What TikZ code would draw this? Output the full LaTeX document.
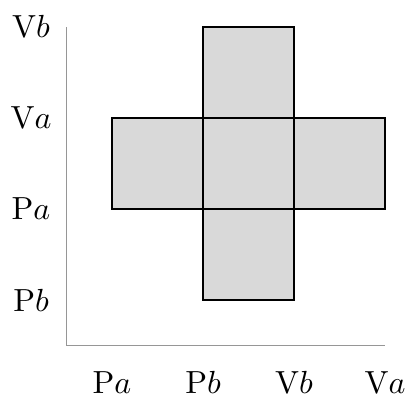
\documentclass[tikz,border=0pt]{standalone}
\usepackage{amsmath, amssymb}
\usepackage{xcolor}
\usetikzlibrary{positioning}
\definecolor{cellgray}{RGB}{217,217,217}
\definecolor{axisgray}{RGB}{150,150,150}

\begin{document}
\begin{tikzpicture}[node distance=0cm]
  \tikzset{cell/.style={rectangle, draw=black, fill=cellgray, minimum size=1cm, inner sep=0pt, outer sep=0pt},
    lbl/.style={inner sep=0.5pt}}
  \useasboundingbox (-1.231,-1.044) rectangle (3.231,3.297);
  % axes
  \coordinate (orig) at (-0.5,-0.5);
  \coordinate (ytop) at (-0.5,3);
  \coordinate (xend) at (3,-0.5);
  \draw[axisgray, thin] (ytop) -- (orig) -- (xend);
  % cross of cells
  \node[cell] (mid) at (1.5,1.5) {};
  \node[cell, left=of mid] (west) {};
  \node[cell, right=of mid] (east) {};
  \node[cell, above=of mid] (north) {};
  \node[cell, below=of mid] (south) {};
  % labels
  \node[lbl] (xpa) at (0,-0.91) {P$a$};
  \node[lbl] (xpb) at (1,-0.91) {P$b$};
  \node[lbl] (xvb) at (2,-0.91) {V$b$};
  \node[lbl] (xva) at (3,-0.91) {V$a$};
  \node[lbl] (ypb) at (-0.89,0) {P$b$};
  \node[lbl] (ypa) at (-0.89,1) {P$a$};
  \node[lbl] (yva) at (-0.89,2) {V$a$};
  \node[lbl] (yvb) at (-0.89,3) {V$b$};
\end{tikzpicture}
\end{document}
